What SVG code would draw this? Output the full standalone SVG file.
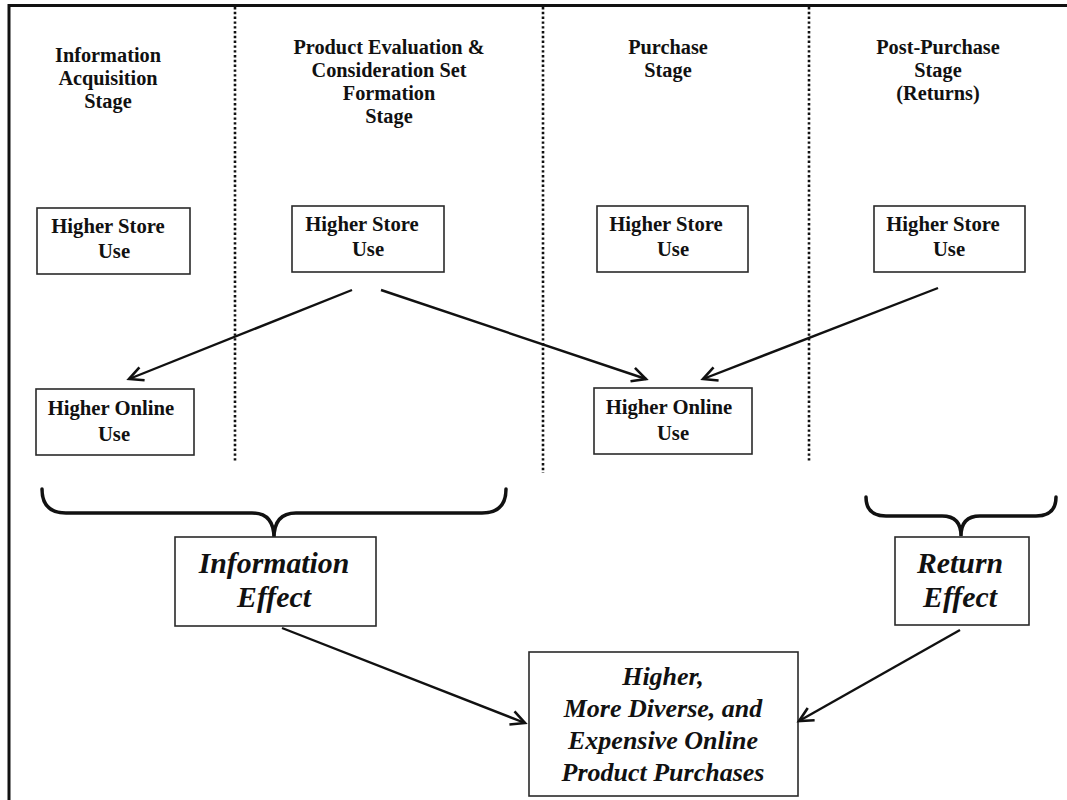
<svg xmlns="http://www.w3.org/2000/svg" width="1067" height="800" viewBox="0 0 1067 800">
<style>
.hdr{font-family:"Liberation Serif",serif;font-weight:bold;font-size:20.3px;fill:#111;text-anchor:middle}
.box{fill:#fff;stroke:#2a2a2a;stroke-width:1.6}
.bt{font-family:"Liberation Serif",serif;font-weight:bold;font-size:20.7px;fill:#111;text-anchor:middle}
.it{font-family:"Liberation Serif",serif;font-weight:bold;font-style:italic;fill:#111;text-anchor:middle}
.dot{stroke:#111;stroke-width:2.6;stroke-dasharray:2.4 2.4;fill:none}
.con{stroke:#111;stroke-width:2.4;fill:none;marker-end:url(#arr)}
.brace{stroke:#111;stroke-width:3.5;fill:none;stroke-linecap:round}
</style>
<defs>
<marker id="arr" viewBox="0 0 20 20" refX="17" refY="10" markerWidth="20" markerHeight="20" markerUnits="userSpaceOnUse" orient="auto">
<path d="M3,3 L17,10 L3,17" fill="none" stroke="#111" stroke-width="2.6"/>
</marker>
</defs>
<rect width="1067" height="800" fill="#fff"/>
<g id="frame">
<path d="M9,800 L9,5.5 L1067,5.5" fill="none" stroke="#111" stroke-width="3"/>
<line class="dot" x1="235" y1="7" x2="235" y2="462"/>
<line class="dot" x1="543" y1="7" x2="543" y2="473"/>
<line class="dot" x1="809" y1="7" x2="809" y2="462"/>
</g>
<g id="headers">
<text class="hdr" x="108" y="62">Information</text>
<text class="hdr" x="108" y="85">Acquisition</text>
<text class="hdr" x="108" y="108">Stage</text>
<text class="hdr" x="389" y="54">Product Evaluation &amp;</text>
<text class="hdr" x="389" y="77">Consideration Set</text>
<text class="hdr" x="389" y="100">Formation</text>
<text class="hdr" x="389" y="123">Stage</text>
<text class="hdr" x="668" y="54">Purchase</text>
<text class="hdr" x="668" y="77">Stage</text>
<text class="hdr" x="938" y="54">Post-Purchase</text>
<text class="hdr" x="938" y="77">Stage</text>
<text class="hdr" x="938" y="100">(Returns)</text>
</g>
<g id="store1">
<rect class="box" x="37" y="208" width="153" height="66"/>
<text class="bt" x="108" y="233">Higher Store</text>
<text class="bt" x="114" y="258">Use</text>
</g>
<g id="store2">
<rect class="box" x="292" y="206" width="152" height="66"/>
<text class="bt" x="362" y="231">Higher Store</text>
<text class="bt" x="368" y="256">Use</text>
</g>
<g id="store3">
<rect class="box" x="597" y="206" width="151" height="66"/>
<text class="bt" x="666" y="231">Higher Store</text>
<text class="bt" x="673" y="256">Use</text>
</g>
<g id="store4">
<rect class="box" x="874" y="206" width="151" height="66"/>
<text class="bt" x="943" y="231">Higher Store</text>
<text class="bt" x="949" y="256">Use</text>
</g>
<g id="online1">
<rect class="box" x="36" y="389" width="158" height="66"/>
<text class="bt" x="111" y="415">Higher Online</text>
<text class="bt" x="114" y="441">Use</text>
</g>
<g id="online3">
<rect class="box" x="594" y="388" width="158" height="66"/>
<text class="bt" x="669" y="414">Higher Online</text>
<text class="bt" x="673" y="440">Use</text>
</g>
<g id="infoBrace">
<path class="brace" d="M42,489 Q42,513 66,513 L252,513 Q274,513 274,538 Q274,513 296,513 L482,513 Q506,513 506,489"/>
</g>
<g id="returnBrace">
<path class="brace" d="M866,497 Q866,516 886,516 L942,516 Q961,516 961,536 Q961,516 980,516 L1036,516 Q1056,516 1056,497"/>
</g>
<g id="infoEffect">
<rect class="box" x="175" y="537" width="201" height="89"/>
<text class="it" x="274" y="573" font-size="29.8">Information</text>
<text class="it" x="274" y="607" font-size="29.8">Effect</text>
</g>
<g id="returnEffect">
<rect class="box" x="895" y="537" width="134" height="88"/>
<text class="it" x="960" y="573" font-size="29.8">Return</text>
<text class="it" x="960" y="607" font-size="29.8">Effect</text>
</g>
<g id="outcome">
<rect class="box" x="529" y="652" width="269" height="144"/>
<text class="it" x="663" y="685" font-size="26">Higher,</text>
<text class="it" x="663" y="717" font-size="26">More Diverse, and</text>
<text class="it" x="663" y="749" font-size="26">Expensive Online</text>
<text class="it" x="663" y="781" font-size="26">Product Purchases</text>
</g>
<g id="connectors">
<line class="con" x1="352" y1="290" x2="129" y2="379"/>
<line class="con" x1="381" y1="290" x2="646" y2="379"/>
<line class="con" x1="938" y1="288" x2="703" y2="379"/>
<line class="con" x1="282" y1="628" x2="525" y2="723"/>
<line class="con" x1="960" y1="630" x2="799" y2="721"/>
</g>
</svg>
